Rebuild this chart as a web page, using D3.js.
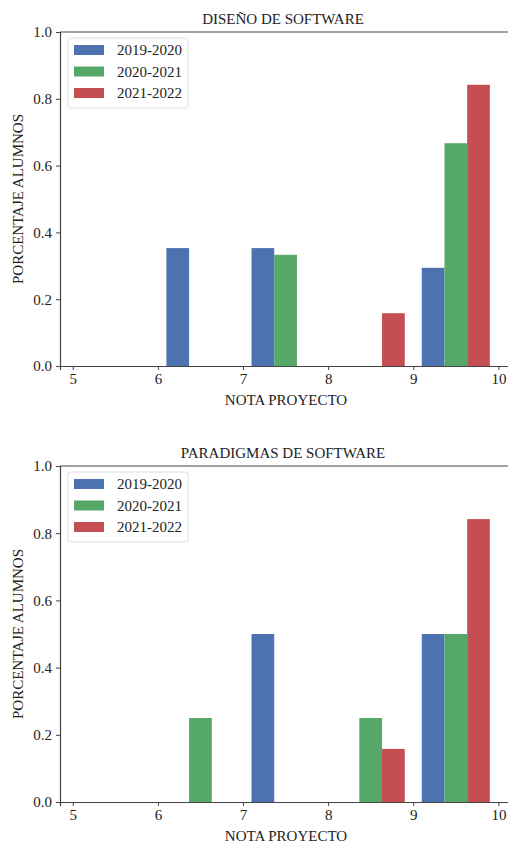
<!DOCTYPE html>
<html>
<head>
<meta charset="utf-8">
<script src="https://cdn.jsdelivr.net/npm/d3@7"></script>
<style>
  body { margin: 0; background: white; }
  text { font-family: "Liberation Serif", "DejaVu Serif", serif; fill: #222; }
</style>
</head>
<body>
<div id="canvas"></div>
<script>
const width = 508;
const height = 843;

// bins are [5,6), [6,7), ... [9,10]
const bins = [5, 6, 7, 8, 9];
const seriesNames = ["2019-2020", "2020-2021", "2021-2022"];
const colors = ["#4c72b0", "#55a868", "#c44e52"];
const xTicks = [5, 6, 7, 8, 9, 10];
const yTicks = [0, 0.2, 0.4, 0.6, 0.8, 1.0];

// DISEÑO DE SOFTWARE
const disenoValues = [
    [0, 0.353, 0.353, 0, 0.294],
    [0, 0, 0.333, 0, 0.667],
    [0, 0, 0, 0.158, 0.842]
];

// PARADIGMAS DE SOFTWARE
const paradigmasValues = [
    [0, 0, 0.5, 0, 0.5],
    [0, 0.25, 0, 0.25, 0.5],
    [0, 0, 0, 0.158, 0.842]
];

const fontSize = "15px";

const svg = d3.select("#canvas")
    .append("svg")
    .attr("width", width)
    .attr("height", height);

svg.append("rect")
    .attr("width", width)
    .attr("height", height)
    .attr("fill", "white");

function drawChart(title, values, top, bottom) {
    const left = 60;
    const right = 512;

    const x = d3.scaleLinear()
        .domain([4.85, 10.16])
        .range([left, right]);

    const y = d3.scaleLinear()
        .domain([0, 1])
        .range([bottom, top]);

    const g = svg.append("g");

    // bars: each bin holds 3 bars covering 80% of its width
    const barW = 0.8 / seriesNames.length;
    for (let s = 0; s < seriesNames.length; s++) {
        g.selectAll(null)
            .data(bins.map((b, i) => ({ bin: b, v: values[s][i] })))
            .enter()
            .filter(d => d.v > 0)
            .append("rect")
            .attr("x", d => x(d.bin + 0.1 + s * barW))
            .attr("width", d => x(d.bin + 0.1 + (s + 1) * barW) - x(d.bin + 0.1 + s * barW))
            .attr("y", d => y(d.v))
            .attr("height", d => y(0) - y(d.v))
            .attr("fill", colors[s]);
    }

    // top spine
    g.append("line")
        .attr("x1", left).attr("x2", right)
        .attr("y1", top).attr("y2", top)
        .attr("stroke", "#444").attr("stroke-width", 1.2);

    const xAxis = g.append("g")
        .attr("transform", `translate(0,${bottom})`)
        .call(d3.axisBottom(x).tickValues(xTicks).tickFormat(d3.format("d")).tickSize(4).tickPadding(3));

    const yAxis = g.append("g")
        .attr("transform", `translate(${left},0)`)
        .call(d3.axisLeft(y).tickValues(yTicks).tickFormat(d3.format(".1f")).tickSize(4).tickPadding(4));

    [xAxis, yAxis].forEach(a => {
        a.attr("font-family", null).attr("font-size", null);
        a.select(".domain").attr("stroke", "#444").attr("stroke-width", 1.2);
        a.selectAll(".tick line").attr("stroke", "#444");
        a.selectAll("text")
            .style("font-family", "'Liberation Serif', serif")
            .style("font-size", fontSize)
            .attr("fill", "#222");
    });

    // title
    g.append("text")
        .attr("x", (left + right) / 2 - 3)
        .attr("y", top - 8)
        .attr("text-anchor", "middle")
        .style("font-size", fontSize)
        .text(title);

    // axis labels
    g.append("text")
        .attr("x", 286)
        .attr("y", bottom + 39)
        .attr("text-anchor", "middle")
        .style("font-size", fontSize)
        .text("NOTA PROYECTO");

    g.append("text")
        .attr("transform", `translate(23,${(top + bottom) / 2}) rotate(-90)`)
        .attr("text-anchor", "middle")
        .style("font-size", fontSize)
        .text("PORCENTAJE ALUMNOS");

    // legend
    const legend = g.append("g").attr("transform", `translate(68,${top + 6})`);
    legend.append("rect")
        .attr("width", 120)
        .attr("height", 70)
        .attr("rx", 3)
        .attr("fill", "white")
        .attr("stroke", "#ddd");

    seriesNames.forEach((name, i) => {
        legend.append("rect")
            .attr("x", 6)
            .attr("y", 7 + i * 21.5)
            .attr("width", 30)
            .attr("height", 10)
            .attr("fill", colors[i]);
        legend.append("text")
            .attr("x", 49)
            .attr("y", 17 + i * 21.5)
            .style("font-size", fontSize)
            .text(name);
    });
}

drawChart("DISEÑO DE SOFTWARE", disenoValues, 32, 366);
drawChart("PARADIGMAS DE SOFTWARE", paradigmasValues, 466, 802);
</script>
</body>
</html>
